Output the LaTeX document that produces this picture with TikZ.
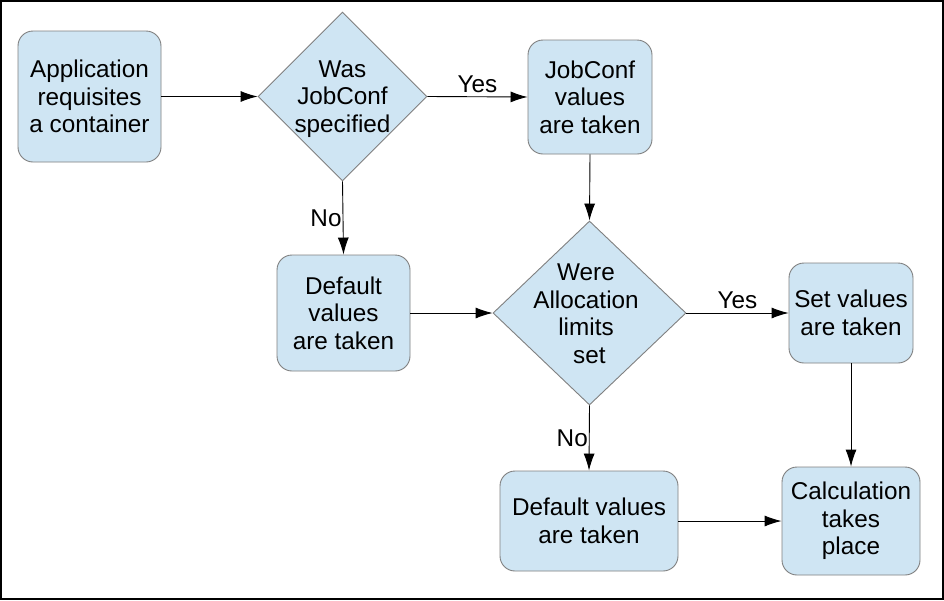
\documentclass[tikz,border=0pt]{standalone}
\usepackage{fontspec}
\setmainfont{Liberation Sans}
\usetikzlibrary{shapes.geometric,arrows.meta}
\definecolor{boxfill}{HTML}{CFE5F3}
\definecolor{boxline}{HTML}{808080}
\tikzset{
  txt/.style={font=\fontsize{24.3}{27.5}\selectfont, align=center},
  rbox/.style={draw=boxline, fill=boxfill, rounded corners=15pt, line width=0.9pt, txt, inner sep=0pt},
  dia/.style={draw=boxline, fill=boxfill, diamond, inner sep=0pt, line width=0.9pt},
  lbl/.style={txt, inner sep=0pt},
  arr/.style={-{Latex[length=17pt,width=11pt]}, line width=0.9pt, black},
}
\begin{document}
\begin{tikzpicture}[x=1pt,y=-1pt]
\useasboundingbox (0,0) rectangle (944,600);
\fill[white] (0,0) rectangle (944,600);
\draw[line width=2pt] (1,1) rectangle (943,599);

\node[rbox, minimum width=143pt, minimum height=131pt] (app) at (89.5,96.5) {Application\\requisites\\a container};
\node[dia, minimum width=169pt, minimum height=169pt] (d1) at (342.5,96.5) {};
\node[lbl] (d1t) at (342.5,99) {Was\\JobConf\\specified};
\node[rbox, minimum width=124pt, minimum height=114pt] (jc) at (590,97) {JobConf\\values\\are taken};
\node[rbox, minimum width=133pt, minimum height=116pt] (def1) at (343.5,313) {Default\\values\\are taken};
\node[dia, minimum width=193pt, minimum height=184pt] (d2) at (589.5,313) {};
\node[lbl] (d2t) at (586,314) {Were\\Allocation\\limits\\\ set};
\node[rbox, minimum width=124pt, minimum height=100pt] (setv) at (851,313) {Set values\\are taken};
\node[rbox, minimum width=178pt, minimum height=100pt] (def2) at (589,521) {Default values\\are taken};
\node[rbox, minimum width=138pt, minimum height=108pt] (calc) at (851,521) {Calculation\\takes\\place};

\draw[arr] (app.east) -- (d1.west);
\draw[arr] (d1.east) -- (jc.west) node[lbl, midway, above=4pt] (y1) {Yes};
\draw[arr] (d1.south) -- (def1.north) node[lbl, midway, left=1pt] (n1) {No};
\draw[arr] (jc.south) -- (d2.north);
\draw[arr] (def1.east) -- (d2.west);
\draw[arr] (d2.east) -- (setv.west) node[lbl, midway, above=4pt] (y2) {Yes};
\draw[arr] (d2.south) -- (def2.north) node[lbl, midway, left=1pt] (n2) {No};
\draw[arr] (setv.south) -- (calc.north);
\draw[arr] (def2.east) -- (calc.west);
\end{tikzpicture}
\end{document}
